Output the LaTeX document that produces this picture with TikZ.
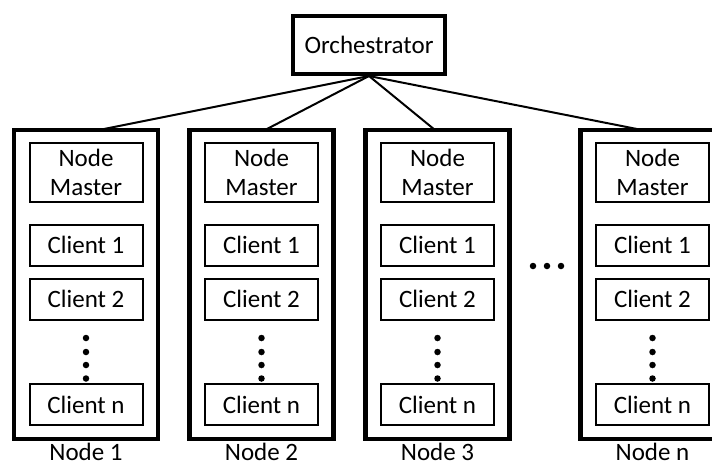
\documentclass[tikz,border=0pt]{standalone}
\usepackage{fontspec}
\setmainfont{Carlito}
\begin{document}
\begin{tikzpicture}[x=1pt,y=-1pt,
  every node/.style={font=\fontsize{25}{30}\selectfont},
  outerbox/.style={draw, line width=4.2pt, minimum width=144pt, minimum height=309pt, inner sep=0pt},
  orchbox/.style={draw, line width=4.2pt, minimum width=152pt, minimum height=58pt, inner sep=0pt},
  masterbox/.style={draw, line width=2pt, minimum width=113pt, minimum height=59pt, inner sep=0pt, align=center},
  clientbox/.style={draw, line width=2pt, minimum width=113pt, minimum height=41pt, inner sep=0pt},
  labelnode/.style={anchor=base, inner sep=0pt},
  conn/.style={line width=2pt},
  dot/.style={fill, circle, inner sep=0pt, minimum size=6.5pt}
]
\useasboundingbox (0,0) rectangle (712,467);
\clip (0,0) rectangle (712,467);

\node[orchbox] (orch) at (369,45) {Orchestrator};

\foreach \i/\x/\lab in {1/86/Node 1, 2/261.5/Node 2, 3/437.5/Node 3, 4/652.5/Node n}{
  \node[outerbox] (n\i) at (\x,284.5) {};
  \node[masterbox] (m\i) at (\x,172.5) {Node\\[-1pt]Master};
  \node[clientbox] (ca\i) at (\x,245) {Client 1};
  \node[clientbox] (cb\i) at (\x,299) {Client 2};
  \node[clientbox] (cn\i) at (\x,404.5) {Client n};
  \node[dot] (d1\i) at (\x,338) {};
  \node[dot] (d2\i) at (\x,352) {};
  \node[dot] (d3\i) at (\x,365) {};
  \node[dot] (d4\i) at (\x,378.5) {};
  \node[labelnode] (l\i) at (\x,460.5) {\lab};
}

\node[dot] (e1) at (533,266) {};
\node[dot] (e2) at (547,266) {};
\node[dot] (e3) at (561,266) {};

\coordinate (t1) at (99,130);
\coordinate (t2) at (265,130);
\coordinate (t3) at (435,130);
\coordinate (t4) at (642,130);
\coordinate (apex) at (369,76);

\foreach \i in {1,2,3,4}{
  \draw[conn] (apex) -- (t\i);
}
\end{tikzpicture}
\end{document}
